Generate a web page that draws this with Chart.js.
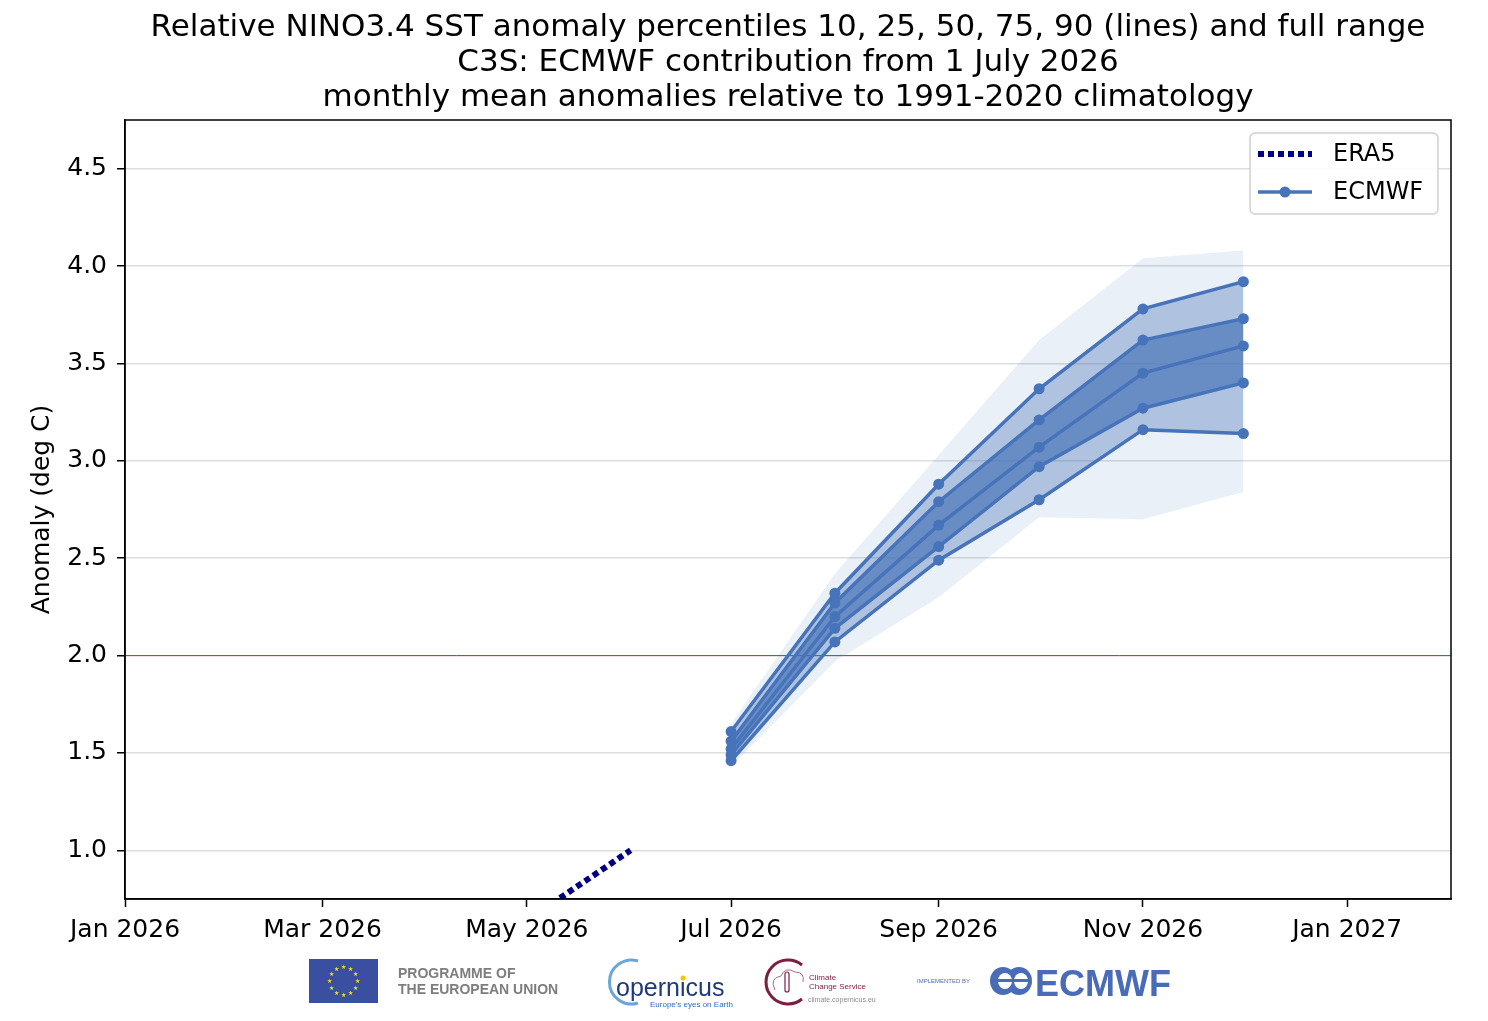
<!DOCTYPE html>
<html>
<head>
<meta charset="utf-8">
<script src="https://cdn.jsdelivr.net/npm/chart.js@4.4.1/dist/chart.umd.min.js"></script>
<style>
  body { margin: 0; background: #fff; }
  #wrap { position: relative; width: 1488px; height: 1021px; overflow: hidden; }
  #nino { position: absolute; left: 0; top: 0; }
  #logos { position: absolute; left: 0; top: 950px; }
</style>
</head>
<body>
<div id="wrap">
  <canvas id="nino" width="1488" height="1021"></canvas>
  <svg id="logos" width="1488" height="71" xmlns="http://www.w3.org/2000/svg">
    <rect x="309" y="9" width="69" height="44" fill="#3a4f9f"/>
    <g id="eu-stars" fill="#f5e11b"></g>
    <text x="398" y="28" font-family="Liberation Sans, Arial, sans-serif" font-weight="bold" font-size="14" fill="#7d7d7d">PROGRAMME OF</text>
    <text x="398" y="44" font-family="Liberation Sans, Arial, sans-serif" font-weight="bold" font-size="14" fill="#7d7d7d">THE EUROPEAN UNION</text>

    <path d="M 638 11 A 22 22 0 1 0 638 53" fill="none" stroke="#6aa6dc" stroke-width="3"/>
    <text x="616" y="46" font-family="Liberation Sans, Arial, sans-serif" font-size="25" fill="#1f3a7a">opernicus</text>
    <circle cx="683" cy="28" r="2.5" fill="#f1c40f"/>
    <text x="650" y="57" font-family="Liberation Sans, Arial, sans-serif" font-size="8" fill="#2f6bc2">Europe's eyes on Earth</text>

    <path d="M 802 15 A 22 22 0 1 0 802 49" fill="none" stroke="#7d1d3f" stroke-width="3"/>
    <path d="M 775 40 q -6 -12 6 -14 q 4 -10 14 -4 q 10 0 8 10" fill="none" stroke="#b26b85" stroke-width="1"/>
    <rect x="785" y="22" width="4" height="20" rx="2" fill="none" stroke="#7d1d3f" stroke-width="1.2"/>
    <text x="809" y="30" font-family="Liberation Sans, Arial, sans-serif" font-size="8" fill="#7d1d3f">Climate</text>
    <text x="809" y="39" font-family="Liberation Sans, Arial, sans-serif" font-size="8" fill="#7d1d3f">Change Service</text>
    <text x="808" y="52" font-family="Liberation Sans, Arial, sans-serif" font-size="7" fill="#8c8c8c">climate.copernicus.eu</text>

    <text x="917" y="33" font-family="Liberation Sans, Arial, sans-serif" font-size="6" fill="#4a6db5">IMPLEMENTED BY</text>
    <ellipse cx="1003" cy="31" rx="13" ry="14" fill="#4a6bb8"/>
    <ellipse cx="1019" cy="31" rx="13" ry="14" fill="#4a6bb8"/>
    <ellipse cx="1005" cy="31" rx="7" ry="8" fill="#fff"/>
    <ellipse cx="1021" cy="31" rx="7" ry="8" fill="#fff"/>
    <rect x="990" y="29" width="40" height="3" fill="#4a6bb8"/>
    <text x="1035" y="46" font-family="Liberation Sans, Arial, sans-serif" font-weight="bold" font-size="36" fill="#4a6bb8">ECMWF</text>
  </svg>
</div>
<script>
// EU flag stars
const starGroup = document.getElementById('eu-stars')
for (let i = 0; i < 12; i++) {
  const a = i / 12 * Math.PI * 2
  const t = document.createElementNS('http://www.w3.org/2000/svg', 'text')
  t.setAttribute('x', 343.5 + Math.cos(a) * 14)
  t.setAttribute('y', 33 + Math.sin(a) * 14)
  t.setAttribute('font-size', '6')
  t.setAttribute('text-anchor', 'middle')
  t.textContent = '★'
  starGroup.appendChild(t)
}

const titleLines = [
  'Relative NINO3.4 SST anomaly percentiles 10, 25, 50, 75, 90 (lines) and full range',
  'C3S: ECMWF contribution from 1 July 2026',
  'monthly mean anomalies relative to 1991-2020 climatology'
]

// forecast, monthly means
const forecastDates = ['2026-07-01', '2026-08-01', '2026-09-01', '2026-10-01', '2026-11-01', '2026-12-01']
const p10 = [1.46, 2.07, 2.49, 2.80, 3.16, 3.14]
const p25 = [1.49, 2.14, 2.56, 2.97, 3.27, 3.40]
const p50 = [1.52, 2.20, 2.67, 3.07, 3.45, 3.59]
const p75 = [1.56, 2.27, 2.79, 3.21, 3.62, 3.73]
const p90 = [1.61, 2.32, 2.88, 3.37, 3.78, 3.92]
const rangeMin = [1.43, 1.97, 2.30, 2.71, 2.70, 2.84]
const rangeMax = [1.65, 2.42, 3.03, 3.62, 4.04, 4.08]

// observations
const era5Dates = ['2026-05-01', '2026-06-01']
const era5 = [0.64, 1.00]

const tickDates = ['2026-01-01', '2026-03-01', '2026-05-01', '2026-07-01', '2026-09-01', '2026-11-01', '2027-01-01']
const tickLabels = ['Jan 2026', 'Mar 2026', 'May 2026', 'Jul 2026', 'Sep 2026', 'Nov 2026', 'Jan 2027']
const yTicks = [1.0, 1.5, 2.0, 2.5, 3.0, 3.5, 4.0, 4.5]
const referenceLevel = 2.0

const startDate = '2026-01-01'
const endDate = '2027-02-01'

function dayOf(s) {
  return (Date.parse(s) - Date.parse(startDate)) / 86400000
}

function toPoints(dates, values) {
  return dates.map((d, i) => ({ x: dayOf(d), y: values[i] }))
}

const lineColor = '#4673b9'
const bandColor = (a) => `rgba(68, 114, 184, ${a})`

function percentileLine(values) {
  return {
    label: 'ECMWF',
    data: toPoints(forecastDates, values),
    borderColor: lineColor,
    backgroundColor: lineColor,
    borderWidth: 3.5,
    pointRadius: 5.5,
    pointBorderWidth: 0,
    pointBackgroundColor: lineColor,
    fill: false,
    order: 0
  }
}

function band(values, fillTo, alpha, order) {
  return {
    label: '',
    data: toPoints(forecastDates, values),
    borderWidth: 0,
    pointRadius: 0,
    borderColor: 'rgba(0,0,0,0)',
    backgroundColor: bandColor(alpha),
    fill: fillTo,
    order
  }
}

const datasets = [
  percentileLine(p10),                       // 0
  percentileLine(p25),                       // 1
  percentileLine(p50),                       // 2
  percentileLine(p75),                       // 3
  percentileLine(p90),                       // 4
  {                                          // 5
    label: 'ERA5',
    data: toPoints(era5Dates, era5),
    borderColor: '#000080',
    borderWidth: 6,
    borderDash: [6, 4],
    borderCapStyle: 'butt',
    pointRadius: 0,
    fill: false,
    clip: 0,
    order: 0
  },
  band(rangeMin, false, 0, 30),              // 6
  band(rangeMax, 6, 0.11, 30),               // 7
  band(p10, false, 0, 20),                   // 8
  band(p90, 8, 0.36, 20),                    // 9
  band(p25, false, 0, 10),                   // 10
  band(p75, 10, 0.66, 10)                    // 11
]

const legendItems = [
  { label: 'ERA5', color: '#000080', dash: [6, 4], width: 6, marker: false },
  { label: 'ECMWF', color: lineColor, dash: [], width: 3.5, marker: true }
]

const decor = {
  id: 'decor',
  beforeDatasetsDraw(chart) {
    const { ctx, chartArea, scales } = chart
    const y = scales.y.getPixelForValue(referenceLevel)
    ctx.save()
    ctx.strokeStyle = '#e3242b'
    ctx.lineWidth = 1
    ctx.beginPath()
    ctx.moveTo(chartArea.left, y)
    ctx.lineTo(chartArea.right, y)
    ctx.stroke()
    ctx.restore()
  },
  afterDraw(chart) {
    const { ctx, chartArea } = chart
    ctx.save()

    // frame
    ctx.strokeStyle = '#000'
    ctx.lineWidth = 1.5
    ctx.strokeRect(chartArea.left, chartArea.top, chartArea.right - chartArea.left, chartArea.bottom - chartArea.top)

    // title
    const cx = (chartArea.left + chartArea.right) / 2
    ctx.fillStyle = '#000'
    ctx.font = '31px "DejaVu Sans"'
    ctx.textAlign = 'center'
    ctx.textBaseline = 'alphabetic'
    titleLines.forEach((line, i) => {
      ctx.fillText(line, cx, 36 + i * 35)
    })

    // legend
    const lx = 1250, ly = 133, lw = 188, lh = 81
    ctx.fillStyle = 'rgba(255,255,255,0.85)'
    ctx.strokeStyle = '#d0d0d0'
    ctx.lineWidth = 1.5
    ctx.beginPath()
    ctx.roundRect(lx, ly, lw, lh, 5)
    ctx.fill()
    ctx.stroke()

    ctx.font = '24px "DejaVu Sans"'
    ctx.textAlign = 'left'
    ctx.textBaseline = 'middle'
    legendItems.forEach((item, i) => {
      const y = ly + 21 + i * 38
      ctx.strokeStyle = item.color
      ctx.lineWidth = item.width
      ctx.lineCap = 'butt'
      ctx.setLineDash(item.dash)
      ctx.beginPath()
      ctx.moveTo(lx + 8, y)
      ctx.lineTo(lx + 62, y)
      ctx.stroke()
      ctx.setLineDash([])
      if (item.marker) {
        ctx.fillStyle = item.color
        ctx.beginPath()
        ctx.arc(lx + 35, y, 5.5, 0, Math.PI * 2)
        ctx.fill()
      }
      ctx.fillStyle = '#000'
      ctx.fillText(item.label, lx + 83, y + 1)
    })

    ctx.restore()
  }
}

const ninoChart = new Chart(document.getElementById('nino'), {
  type: 'line',
  data: { datasets },
  options: {
    responsive: false,
    animation: false,
    layout: {
      padding: { top: 120, right: 37, bottom: 62, left: 0 }
    },
    plugins: {
      legend: { display: false },
      title: { display: false },
      tooltip: { enabled: false },
      filler: { propagate: false }
    },
    scales: {
      x: {
        type: 'linear',
        min: 0,
        max: dayOf(endDate),
        afterBuildTicks: (scale) => {
          scale.ticks = tickDates.map(d => ({ value: dayOf(d) }))
        },
        afterFit: (scale) => { scale.height = 60 },
        ticks: {
          color: '#000',
          padding: 8,
          maxRotation: 0,
          font: { family: 'DejaVu Sans', size: 25 },
          callback: (value) => {
            const i = tickDates.findIndex(d => dayOf(d) === value)
            return i >= 0 ? tickLabels[i] : ''
          }
        },
        grid: {
          drawOnChartArea: false,
          drawTicks: true,
          tickLength: 8,
          tickColor: '#000',
          tickWidth: 1.5
        },
        border: { display: true, color: '#000', width: 1.5 }
      },
      y: {
        type: 'linear',
        min: 0.75,
        max: 4.75,
        afterBuildTicks: (scale) => {
          scale.ticks = yTicks.map(v => ({ value: v }))
        },
        afterFit: (scale) => { scale.width = 125 },
        ticks: {
          color: '#000',
          padding: 10,
          font: { family: 'DejaVu Sans', size: 25 },
          callback: (value) => Number(value).toFixed(1)
        },
        grid: {
          color: '#dddddd',
          lineWidth: 1.5,
          drawTicks: true,
          tickLength: 8,
          tickColor: '#000',
          tickWidth: 1.5
        },
        border: { display: true, color: '#000', width: 1.5 },
        title: {
          display: true,
          text: 'Anomaly (deg C)',
          color: '#000',
          font: { family: 'DejaVu Sans', size: 25 },
          padding: { top: 27, bottom: 0 }
        }
      }
    }
  },
  plugins: [decor]
})
</script>
</body>
</html>
